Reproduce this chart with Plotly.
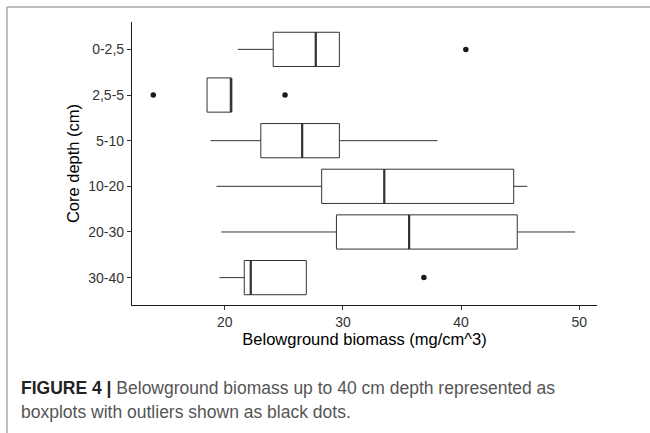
import plotly.graph_objects as go

categories = ["0-2,5", "2,5-5", "5-10", "10-20", "20-30", "30-40"]
lower_whisker = [21.1, 18.5, 18.8, 19.3, 19.7, 19.55]
q1 = [24.1, 18.5, 23.05, 28.2, 29.45, 21.65]
median = [27.7, 20.55, 26.55, 33.5, 35.6, 22.2]
q3 = [29.7, 20.55, 29.7, 44.45, 44.75, 26.9]
upper_whisker = [29.7, 20.55, 38.0, 45.6, 49.65, 26.9]
outlier_cat = ["0-2,5", "2,5-5", "2,5-5", "30-40"]
outlier_val = [40.4, 13.95, 25.1, 36.85]
x_ticks = [20, 30, 40, 50]

pos = list(range(len(categories)))
cat_pos = {c: i for i, c in enumerate(categories)}
half = 0.375

fig = go.Figure()
fig.add_trace(go.Box(
    y=pos, q1=q1, median=median, q3=q3,
    lowerfence=lower_whisker, upperfence=upper_whisker,
    orientation="h", width=0.75, whiskerwidth=0,
    fillcolor="white", line=dict(color="#333333", width=1),
    boxpoints=False, showlegend=False, hoverinfo="skip",
))
mx, my = [], []
for i, m in enumerate(median):
    mx += [m, m, None]
    my += [i - half, i + half, None]
fig.add_trace(go.Scatter(x=mx, y=my, mode="lines",
                         line=dict(color="#333333", width=2.2),
                         showlegend=False, hoverinfo="skip"))
fig.add_trace(go.Scatter(x=outlier_val, y=[cat_pos[c] for c in outlier_cat],
                         mode="markers", marker=dict(color="#1a1a1a", size=5.5),
                         showlegend=False, hoverinfo="skip"))

FONT = "Liberation Sans, Arial, sans-serif"
axis_font = dict(family=FONT, size=14, color="#333333")
fig.update_xaxes(range=[12.15, 51.5], tickvals=x_ticks, ticks="outside", ticklen=4,
                 tickcolor="#333333", showline=True, linecolor="#1a1a1a", linewidth=1.2,
                 showgrid=False, zeroline=False, tickfont=axis_font,
                 title=dict(text="Belowground biomass (mg/cm^3)", standoff=2,
                            font=dict(family=FONT, size=16.5, color="black")))
fig.update_yaxes(range=[5.6, -0.6], tickvals=pos, ticktext=categories, ticks="outside", ticklen=4,
                 tickcolor="#333333", showline=True, linecolor="#1a1a1a", linewidth=1.2,
                 showgrid=False, zeroline=False, tickfont=axis_font,
                 title=dict(text="Core depth (cm)", standoff=4,
                            font=dict(family=FONT, size=16.5, color="black")))

W, H = 650, 433
L, R, T, B = 132, 53, 22, 128
pw, ph = W - L - R, H - T - B

def px_to_paper(x, y):
    return (x - L) / pw, (H - B - y) / ph

ann = []
x0, y0 = px_to_paper(19, 400)
ann.append(dict(x=x0, y=y0, xref="paper", yref="paper", xanchor="left", yanchor="bottom",
                text="<b>FIGURE 4 |</b> <span style='font-weight:normal;color:#555555'>"
                     "Belowground biomass up to 40 cm depth represented as</span>",
                showarrow=False, align="left",
                font=dict(family=FONT, size=17.5, color="#222222")))
_, y2 = px_to_paper(19, 424)
ann.append(dict(x=x0, y=y2, xref="paper", yref="paper", xanchor="left", yanchor="bottom",
                text="boxplots with outliers shown as black dots.", showarrow=False, align="left",
                font=dict(family=FONT, size=17.5, color="#555555")))

fx0, fy0 = px_to_paper(7, 7)
fx1, _ = px_to_paper(650, 7)
_, fy1 = px_to_paper(7, 433)
shapes = [
    dict(type="line", xref="paper", yref="paper", layer="above",
         x0=fx0, y0=fy0, x1=fx1, y1=fy0,
         line=dict(color="#A8A8A8", width=1.5)),
    dict(type="line", xref="paper", yref="paper", layer="above",
         x0=fx0, y0=fy0, x1=fx0, y1=fy1,
         line=dict(color="#A8A8A8", width=1.5)),
]

fig.update_layout(width=W, height=H, margin=dict(l=L, r=R, t=T, b=B),
                  plot_bgcolor="white", paper_bgcolor="white",
                  annotations=ann, shapes=shapes, showlegend=False)
fig.write_html("out.html", config={"displayModeBar": False},
               post_script="document.body.style.margin='0';")
